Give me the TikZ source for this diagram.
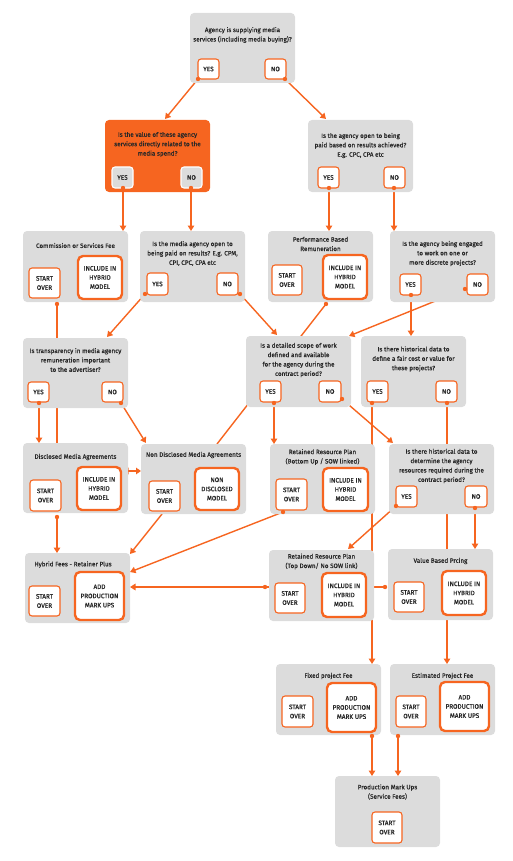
\documentclass[tikz,border=0pt]{standalone}
\usepackage{fontspec}
\setmainfont{Fira Sans}
\newfontfamily\ttlfont{Fira Sans}[FakeBold=0.6]
\newfontfamily\btnfont{Fira Sans}[FakeBold=0.9]
\usetikzlibrary{arrows.meta,calc}
\definecolor{org}{RGB}{246,101,32}
\definecolor{pan}{RGB}{220,220,220}
\definecolor{txt}{RGB}{40,40,40}
\pgfdeclarelayer{bg}\pgfdeclarelayer{fg}\pgfsetlayers{bg,main,fg}
\newcommand\pn[6][panel]{\node[#1,minimum width={#5-#3},minimum height={#6-#4}] (#2) at ({(#3+#5)/2},{(#4+#6)/2}) {};}
\newcommand\bt[7][btn]{\node[#1,minimum width={#5-#3},minimum height={#6-#4}] (#2) at ({(#3+#5)/2},{(#4+#6)/2}) {#7};}
\begin{document}
\begin{tikzpicture}[x=1pt,y=-1pt,
 panel/.style={fill=pan, rounded corners=4pt, inner sep=0pt, outer sep=0pt},
 hotpanel/.style={panel, fill=org},
 title/.style={text=txt, font=\ttlfont\fontsize{6.3}{9.4}\selectfont, align=center, inner sep=0pt},
 btn/.style={draw=org, line width=1.1pt, fill=white, rounded corners=3pt, text=txt, font=\btnfont\fontsize{6.4}{9.2}\selectfont, align=center, inner sep=0pt, outer sep=0pt},
 bigbtn/.style={btn, line width=2.4pt, rounded corners=5pt},
 hotbtn/.style={btn, draw=white, fill=pan},
 conn/.style={draw=org, line width=1.4pt, -{Triangle[width=6.5pt,length=5.5pt]}},
 plain/.style={draw=org, line width=1.4pt},
 dot/.style={circle, fill=org, inner sep=0pt, minimum size=4.4pt}
]
\useasboundingbox (0,0) rectangle (513,861);
% panels
\pn{p1}{190}{13}{295}{83}
\pn[hotpanel]{p2}{105}{120}{210}{192}
\pn{p3}{308}{120}{413}{192}
\pn{p4}{23}{231}{128}{302}
\pn{p5}{140}{231}{245}{302}
\pn{p6}{268}{231}{373}{302}
\pn{p7}{390}{231}{495}{302}
\pn{p8}{23}{338}{128}{408}
\pn{p9}{246}{336}{351}{407}
\pn{p10}{361}{336}{466}{407}
\pn{p11}{23}{443}{128}{513}
\pn{p12}{141}{444}{246}{514}
\pn{p13}{270}{444}{375}{514}
\pn{p14}{389}{444}{494}{514}
\pn{p15}{25}{553}{130}{623}
\pn{p16}{269}{550}{374}{621}
\pn{p17}{388}{549}{493}{620}
\pn{p18}{276}{664}{381}{735}
\pn{p19}{390}{664}{495}{735}
\pn{p20}{335}{776}{440}{847}
% titles
\node[title] (t1) at (242.5,35) {Agency is supplying media\\services (including media buying)?};
\node[title] (t2) at (157.5,144.5) {Is the value of these agency\\services directly related to the\\media spend?};
\node[title] (t3) at (360.5,145.5) {Is the agency open to being\\paid based on results achieved?\\E.g. CPC, CPA etc};
\node[title] (t4) at (75.5,245.5) {Commission or Services Fee};
\node[title] (t5) at (192.5,253.5) {Is the media agency open to\\being paid on results? E.g. CPM,\\CPI, CPC, CPA etc};
\node[title] (t6) at (320.5,244) {Performance Based\\Remuneration};
\node[title] (t7) at (442.5,253.5) {Is the agency being engaged\\to work on one or\\more discrete projects?};
\node[title] (t8) at (75.5,360) {Is transparency in media agency\\remuneration important\\to the advertiser?};
\node[title] (t9) at (298.5,360) {Is a detailed scope of work\\defined and available\\for the agency during the\\contract period?};
\node[title] (t10) at (413.5,359) {Is there historical data to\\define a fair cost or value for\\these projects?};
\node[title] (t11) at (75.5,457) {Disclosed Media Agreements};
\node[title] (t12) at (193.5,455) {Non Disclosed Media Agreements};
\node[title] (t13) at (322.5,457) {Retained Resource Plan\\(Bottom Up / SOW linked)};
\node[title] (t14) at (441.5,466) {Is there historical data to\\determine the agency\\resources required during the\\contract period?};
\node[title] (t15) at (73,564.5) {Hybrid Fees - Retainer Plus};
\node[title] (t16) at (321.5,561.5) {Retained Resource Plan\\(Top Down/ No SOW link)};
\node[title] (t17) at (440.5,561) {Value Based Prcing};
\node[title] (t18) at (328.5,676) {Fixed project Fee};
\node[title] (t19) at (442.5,676) {Estimated Project Fee};
\node[title] (t20) at (387.5,792) {Production Mark Ups\\(Service Fees)};
% buttons
\bt{b1y}{198}{59}{219}{79}{YES}
\bt{b1n}{265}{59}{286}{79}{NO}
\bt[hotbtn]{b2y}{112}{167}{133}{188}{YES}
\bt[hotbtn]{b2n}{181}{167}{202}{188}{NO}
\bt{b3y}{318}{167}{339}{188}{YES}
\bt{b3n}{384}{167}{405}{188}{NO}
\bt{b4s}{29}{268}{60}{298}{START\\OVER}
\bt[bigbtn]{b4i}{78}{256}{122}{299}{INCLUDE IN\\HYBRID\\MODEL}
\bt{b5y}{147}{273}{168}{295}{YES}
\bt{b5n}{217}{273}{238}{295}{NO}
\bt{b6s}{272}{265}{302}{295}{START\\OVER}
\bt[bigbtn]{b6i}{323}{255}{367}{299}{INCLUDE IN\\HYBRID\\MODEL}
\bt{b7y}{400}{274}{421}{295}{YES}
\bt{b7n}{467}{274}{488}{295}{NO}
\bt{b8y}{28}{382}{49}{402}{YES}
\bt{b8n}{102}{382}{123}{402}{NO}
\bt{b9y}{260}{381}{281}{402}{YES}
\bt{b9n}{319}{381}{341}{402}{NO}
\bt{b10y}{367}{381}{388}{402}{YES}
\bt{b10n}{436}{381}{457}{402}{NO}
\bt{b11s}{30}{480}{61}{511}{START\\OVER}
\bt[bigbtn]{b11i}{77}{467}{121}{510}{INCLUDE IN\\HYBRID\\MODEL}
\bt{b12s}{149}{481}{180}{511}{START\\OVER}
\bt[bigbtn]{b12n}{195}{468}{239}{510}{NON\\DISCLOSED\\MODEL}
\bt{b13s}{276}{479}{307}{510}{START\\OVER}
\bt[bigbtn]{b13i}{323}{468}{368}{511}{INCLUDE IN\\HYBRID\\MODEL}
\bt{b14y}{396}{486}{417}{507}{YES}
\bt{b14n}{465}{486}{487}{507}{NO}
\bt{b15s}{29}{586}{60}{616}{START\\OVER}
\bt[bigbtn]{b15a}{75}{572}{124}{620}{ADD\\PRODUCTION\\MARK UPS}
\bt{b16s}{275}{583}{305}{613}{START\\OVER}
\bt[bigbtn]{b16i}{322}{573}{366}{617}{INCLUDE IN\\HYBRID\\MODEL}
\bt{b17s}{394}{582}{424}{612}{START\\OVER}
\bt[bigbtn]{b17i}{442}{571}{486}{615}{INCLUDE IN\\HYBRID\\MODEL}
\bt{b18s}{282}{696}{313}{727}{START\\OVER}
\bt[bigbtn]{b18a}{327}{683}{376}{732}{ADD\\PRODUCTION\\MARK UPS}
\bt{b19s}{396}{696}{426}{727}{START\\OVER}
\bt[bigbtn]{b19a}{440}{682}{489}{731}{ADD\\PRODUCTION\\MARK UPS}
\bt{b20s}{372}{812}{402}{843}{START\\OVER}
% dots
\begin{pgfonlayer}{fg}
\node[dot] (d1) at (198,79) {};
\node[dot] (d2) at (285,79) {};
\node[dot] (d3) at (123,188) {};
\node[dot] (d4) at (191,188) {};
\node[dot] (d5) at (329,188) {};
\node[dot] (d6) at (394,188) {};
\node[dot] (d7) at (57,304) {};
\node[dot] (d8) at (145,294) {};
\node[dot] (d9) at (240,294) {};
\node[dot] (d10) at (326,304) {};
\node[dot] (d11) at (411,295) {};
\node[dot] (d12) at (465,289) {};
\node[dot] (d13) at (39,403) {};
\node[dot] (d14) at (121,403) {};
\node[dot] (d15) at (274,403) {};
\node[dot] (d16) at (342,399) {};
\node[dot] (d17) at (372,403) {};
\node[dot] (d18) at (447,403) {};
\node[dot] (d19) at (396,506) {};
\node[dot] (d20) at (475,508) {};
\node[dot] (d21) at (283,512) {};
\node[dot] (d23) at (57,517) {};
\node[dot] (d25) at (265,587) {};
\node[dot] (d26) at (385,587) {};
\node[dot] (d27) at (372,736) {};
\node[dot] (d28) at (398,736) {};
\end{pgfonlayer}
% target coordinates
\coordinate (e1) at (165,119);
\coordinate (e2) at (326,119);
\coordinate (e8) at (107,337);
\coordinate (e9) at (277,335);
\coordinate (e10) at (217,444);
\coordinate (e12) at (349,336);
\coordinate (e14) at (146,443);
\coordinate (e16) at (393,443);
\coordinate (e19) at (348,549);
\coordinate (e21) at (130,572);
\coordinate (s22) at (162,514);
\coordinate (e22) at (130,554);
\coordinate (a24) at (123.5,471);
\coordinate (b24) at (141,471);
% connectors
\begin{pgfonlayer}{bg}
\draw[conn] (d1.center) -- (e1);
\draw[conn] (d2.center) -- (e2);
\draw[conn] (d3.center) -- (d3 |- p4.north);
\draw[conn] (d4.center) -- (d4 |- p5.north);
\draw[conn] (d5.center) -- (d5 |- p6.north);
\draw[conn] (d6.center) -- (d6 |- p7.north);
\draw[plain] (d7.center) -- (d7 |- p11.north);
\draw[conn] (d8.center) -- (e8);
\draw[conn] (d9.center) -- (e9);
\draw[plain] (d10.center) -- (e10);
\draw[conn] (d11.center) -- (d11 |- p10.north);
\draw[conn] (d12.center) -- (e12);
\draw[conn] (d13.center) -- (d13 |- p11.north);
\draw[conn] (d14.center) -- (e14);
\draw[conn] (d15.center) -- (d15 |- p13.north);
\draw[conn] (d16.center) -- (e16);
\draw[conn] (d17.center) -- (d17 |- p18.north);
\draw[conn] (d18.center) -- (d18 |- p19.north);
\draw[conn] (d19.center) -- (e19);
\draw[conn] (d20.center) -- (d20 |- p17.north);
\draw[conn] (d21.center) -- (e21);
\draw[conn] (s22) -- (e22);
\draw[conn] (d23.center) -- (d23 |- p15.north);
\draw[plain, {Triangle[width=6.5pt,length=5pt]}-{Triangle[width=6.5pt,length=5pt]}] (a24) -- (b24);
\draw[conn] (d25.center) -- (d25 -| p15.east);
\draw[plain] (d26.center) -- (d25.center);
\draw[conn] (d27.center) -- (d27 |- p20.north);
\draw[conn] (d28.center) -- (d28 |- p20.north);
\end{pgfonlayer}
\end{tikzpicture}
\end{document}
